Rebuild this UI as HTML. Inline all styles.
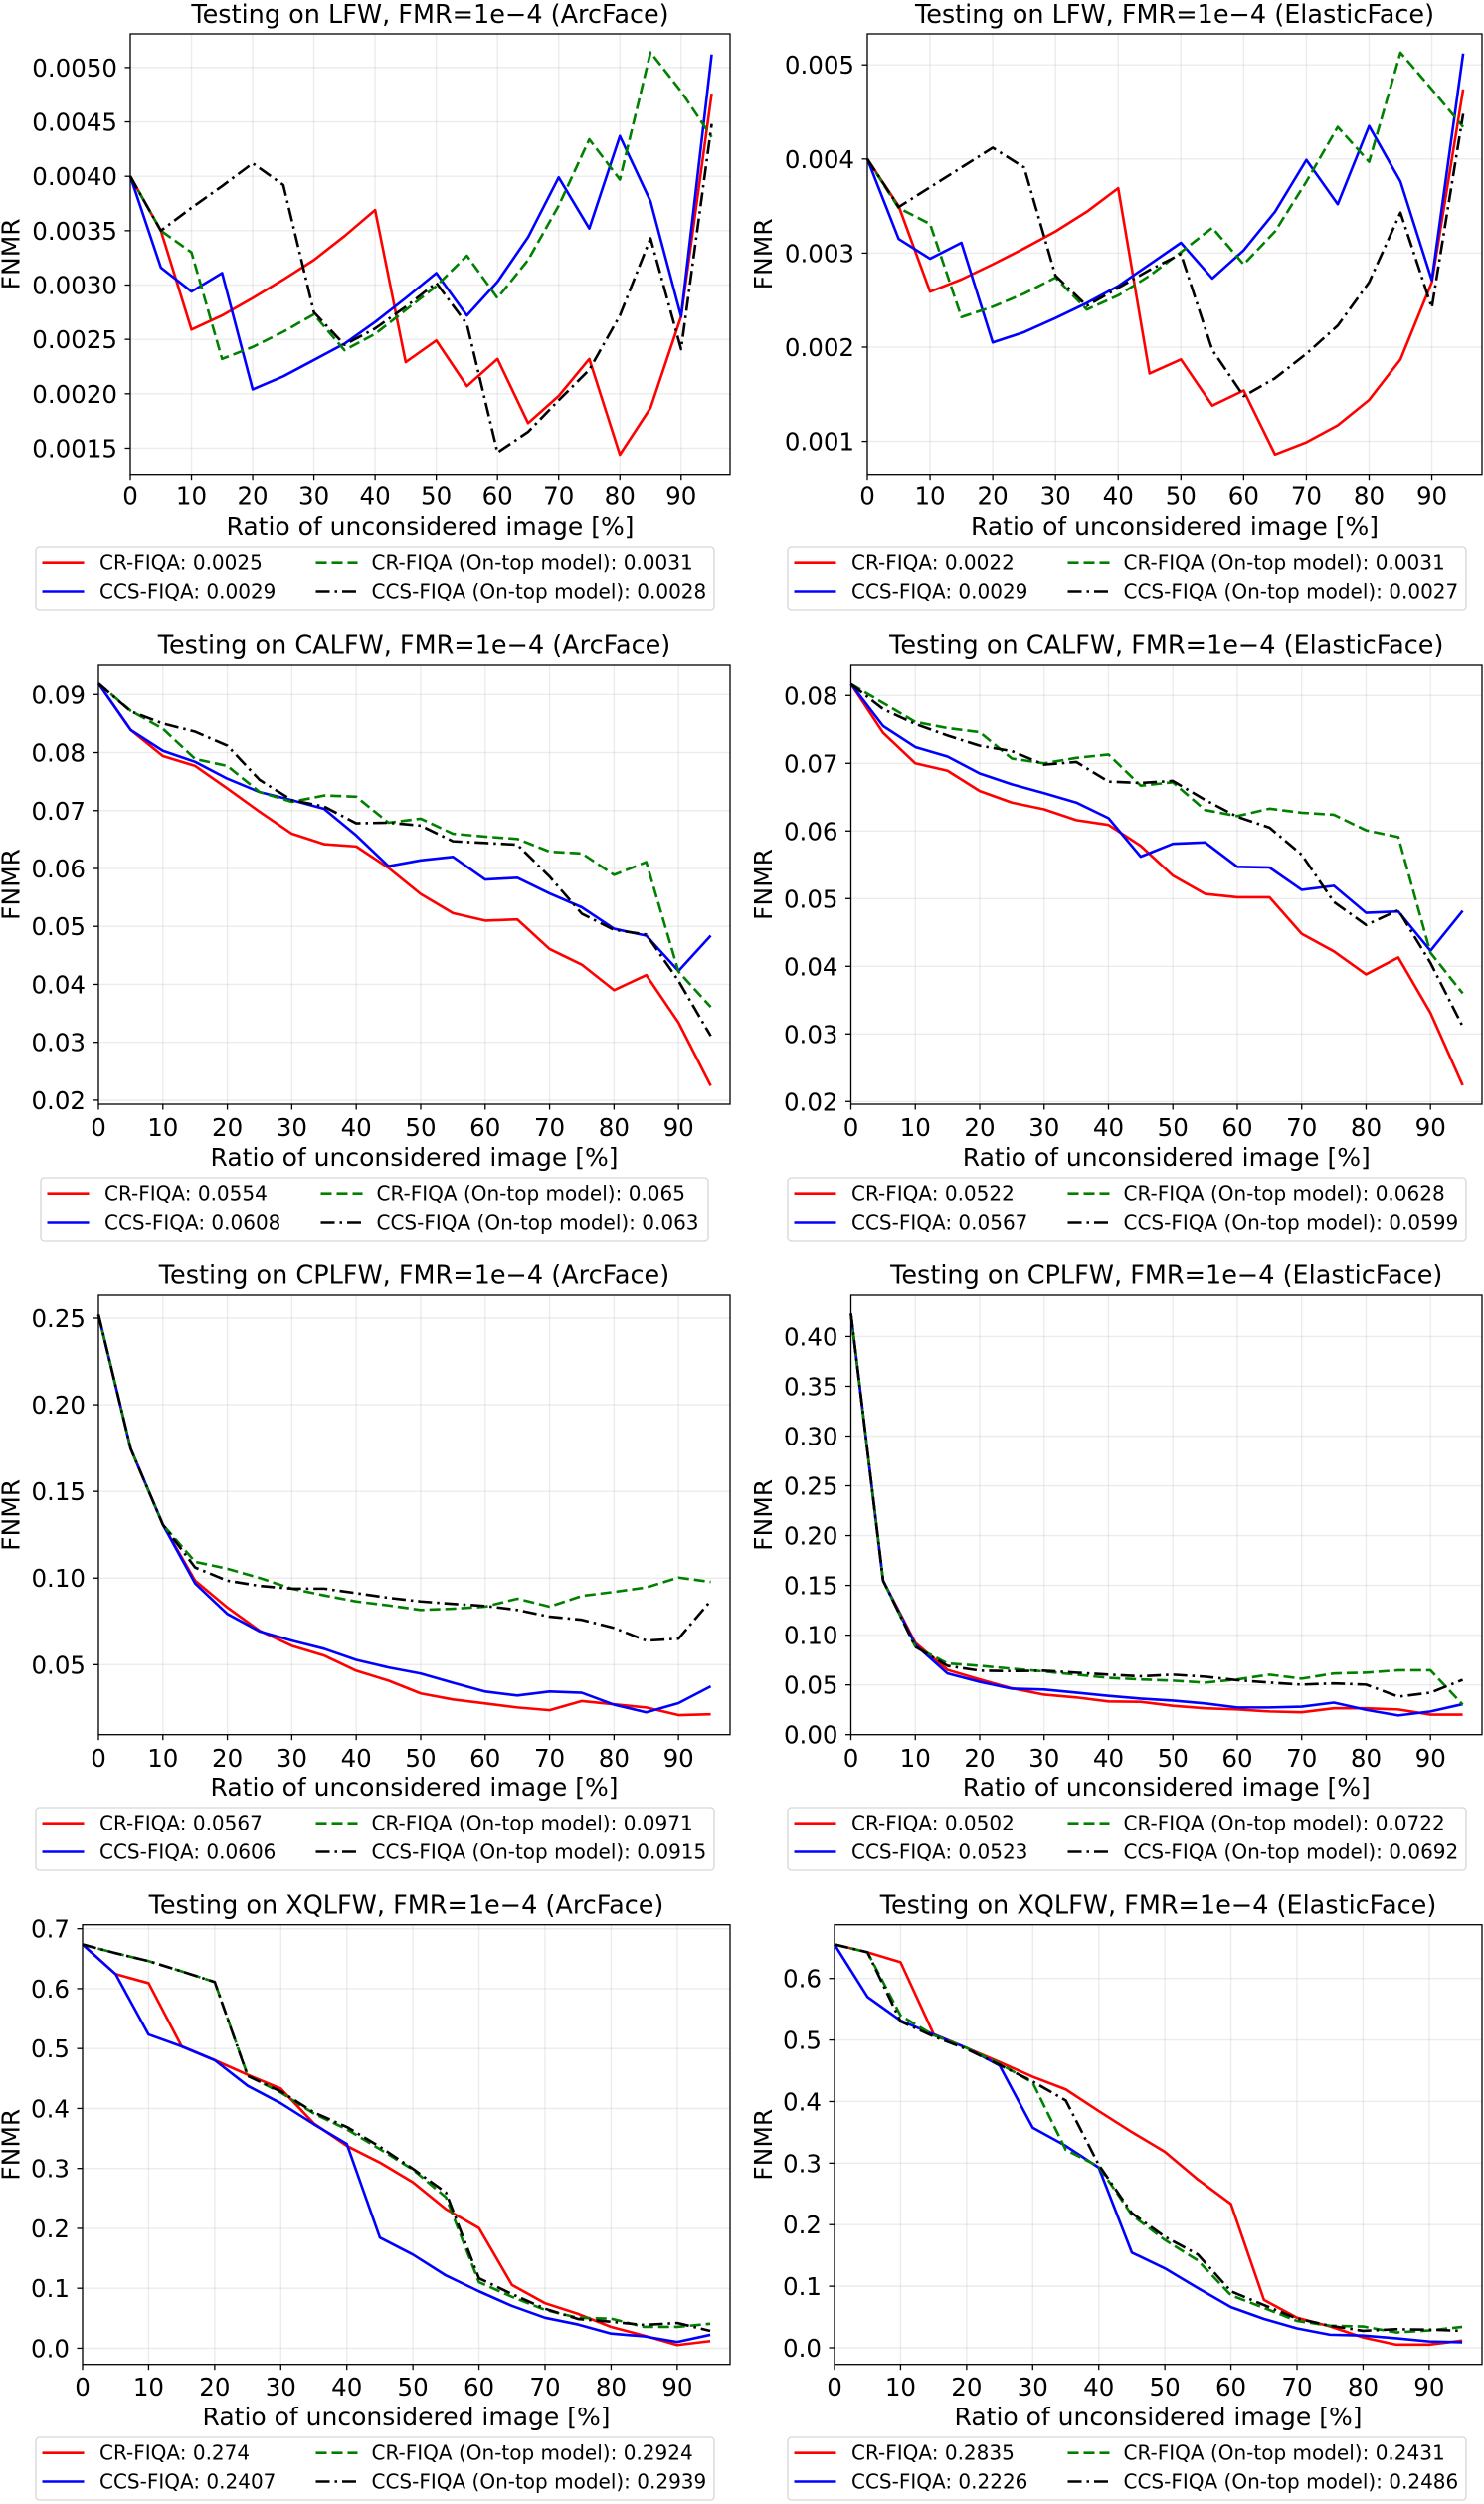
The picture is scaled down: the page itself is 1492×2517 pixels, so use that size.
<!DOCTYPE html>
<html lang="en">
<head>
<meta charset="utf-8">
<title>FNMR vs. ratio of unconsidered images</title>
<style>
html,body{margin:0;padding:0;background:#fff;}
svg{display:block;filter:blur(0.35px);}
text{font-family:"DejaVu Sans","Liberation Sans",sans-serif;fill:#000;}
</style>
</head>
<body>
<svg id="figure" xmlns="http://www.w3.org/2000/svg" width="1492" height="2517" viewBox="0 0 1492 2517"></svg>
<script>
const ratios = [0,5,10,15,20,25,30,35,40,45,50,55,60,65,70,75,80,85,90,95];
const xTickValues = [0,10,20,30,40,50,60,70,80,90];
const xLimit = [0,98];

const lfwArcRed = [.0040,.00350,.00259,.00272,.00288,.00305,.00323,.00345,.00369,.00229,.00249,.00207,.00232,.00173,.00198,.00232,.00144,.00187,.00271,.00476];
const lfwArcBlue = [.0040,.00316,.00294,.00311,.00204,.00216,.00231,.00246,.00266,.00288,.00311,.00272,.00303,.00344,.00399,.00352,.00437,.00377,.00271,.00512];
const lfwArcGreen = [.0040,.0035,.0033,.00232,.00243,.00257,.00273,.0024,.00255,.00277,.00299,.00327,.00288,.00323,.00373,.00434,.00397,.00514,.00478,.00436];
const lfwArcBlack = [.0040,.0035,.00371,.00391,.00412,.00392,.00275,.00245,.0026,.0028,.00302,.00264,.00146,.00165,.00194,.00222,.00272,.00343,.00241,.00448];

const lfwElasticRed = [.0040,.0035,.00259,.00272,.00288,.00305,.00323,.00344,.00369,.00172,.00187,.00138,.00154,.00086,.00099,.00117,.00144,.00187,.00269,.00474];
const lfwElasticBlue = [.0040,.00315,.00294,.00311,.00205,.00216,.00231,.00247,.00265,.00288,.00311,.00273,.00303,.00344,.00399,.00352,.00435,.00376,.00271,.00512];
const lfwElasticGreen = [.0040,.00348,.00331,.00232,.00243,.00257,.00274,.0024,.00255,.00276,.00301,.00327,.00288,.00323,.00376,.00434,.00397,.00513,.00474,.00434];
const lfwElasticBlack = [.0040,.00349,.0037,.00391,.00412,.00391,.00276,.00244,.00263,.00282,.00299,.00197,.00148,.00167,.00193,.00223,.00269,.00343,.00242,.00448];

const calfwArcRed = [.0919,.0839,.0794,.0777,.0738,.0698,.0660,.0642,.0638,.0601,.0556,.0523,.0510,.0512,.0461,.0434,.0390,.0416,.0334,.0225];
const calfwArcBlue = [.0919,.0839,.0803,.0784,.0755,.0732,.0718,.0703,.0657,.0604,.0614,.0620,.0581,.0584,.0557,.0533,.0496,.0484,.0423,.0484];
const calfwArcGreen = [.0919,.0872,.0841,.0789,.0777,.0732,.0715,.0726,.0724,.0679,.0686,.0660,.0655,.0651,.0629,.0626,.0589,.0611,.0422,.0361];
const calfwArcBlack = [.0919,.0871,.0850,.0836,.0812,.0753,.0718,.0707,.0678,.0679,.0674,.0647,.0644,.0641,.0586,.0522,.0494,.0486,.0406,.0311];

const calfwElasticRed = [.0817,.0745,.0700,.0689,.0659,.0642,.0632,.0616,.0609,.0578,.0534,.0507,.0502,.0502,.0448,.0422,.0388,.0413,.0331,.0224];
const calfwElasticBlue = [.0817,.0755,.0724,.0710,.0685,.0669,.0656,.0642,.0619,.0562,.0581,.0583,.0547,.0546,.0513,.0519,.0479,.0481,.0423,.0482];
const calfwElasticGreen = [.0817,.0789,.0761,.0752,.0746,.0707,.0700,.0708,.0713,.0667,.0672,.0631,.0622,.0633,.0627,.0624,.0601,.0591,.0420,.0360];
const calfwElasticBlack = [.0817,.0780,.0758,.0741,.0726,.0718,.0698,.0702,.0673,.0671,.0674,.0646,.0621,.0605,.0565,.0495,.0461,.0483,.0405,.0311];

const cplfwArcRed = [.252,.1747,.1308,.0985,.083,.0696,.0609,.0553,.0465,.0408,.0334,.0299,.0276,.0253,.0237,.029,.0271,.0253,.0209,.0214];
const cplfwArcBlue = [.252,.1747,.1308,.0969,.0793,.0692,.0639,.0592,.0528,.0484,.0449,.0396,.0345,.0322,.0345,.0338,.0269,.0225,.0278,.0375];
const cplfwArcGreen = [.252,.1747,.1308,.1094,.1054,.1001,.0939,.09,.0865,.0842,.0816,.0823,.0835,.0881,.0835,.0897,.092,.0946,.1003,.0978];
const cplfwArcBlack = [.252,.1747,.1308,.1061,.0985,.0955,.0939,.0939,.0913,.0886,.0865,.0851,.0839,.0816,.0777,.0759,.0712,.0639,.065,.0869];

const cplfwElasticRed = [.423,.1548,.0924,.0651,.0555,.0466,.0402,.0374,.0334,.033,.029,.0265,.0253,.0233,.0225,.0265,.0265,.0253,.0201,.0201];
const cplfwElasticBlue = [.423,.1548,.0904,.0615,.0531,.0462,.0454,.0422,.039,.0362,.0342,.0314,.0273,.0273,.0281,.0322,.0249,.0193,.0233,.0306];
const cplfwElasticGreen = [.423,.1548,.0884,.0716,.0692,.0663,.0635,.0603,.0571,.0555,.0543,.0523,.0555,.0603,.0563,.0615,.0623,.0647,.0647,.0302];
const cplfwElasticBlack = [.423,.1548,.0884,.0692,.0643,.0639,.0643,.0623,.0603,.0587,.0603,.0583,.0547,.0523,.0503,.0515,.0503,.0382,.0422,.0551];

const xqlfwArcRed = [.6737,.6243,.6091,.5036,.4806,.4562,.4331,.3751,.3375,.3098,.2769,.232,.2004,.1055,.0751,.0573,.0356,.0211,.0053,.0119];
const xqlfwArcBlue = [.6737,.6243,.5234,.5036,.4806,.4377,.4087,.3738,.3408,.1846,.1562,.1213,.0949,.0705,.0508,.0396,.0244,.0198,.0105,.0224];
const xqlfwArcGreen = [.6737,.6592,.646,.6289,.6111,.4548,.4265,.3916,.3652,.3322,.298,.2518,.1101,.0857,.0639,.0508,.0494,.0356,.0356,.0409];
const xqlfwArcBlack = [.6737,.6592,.646,.6289,.6111,.4542,.4285,.3935,.3691,.3362,.2993,.2597,.1167,.0903,.0659,.0488,.0442,.0389,.0422,.029];

const xqlfwElasticRed = [.6553,.6425,.6264,.5096,.4872,.4641,.4403,.4198,.3845,.3504,.3184,.2734,.2336,.0777,.0488,.0347,.0167,.0051,.0051,.0116];
const xqlfwElasticBlue = [.6553,.57,.5315,.509,.4872,.4583,.3575,.328,.2927,.1547,.129,.0969,.0661,.0469,.0315,.0212,.0199,.0154,.0103,.009];
const xqlfwElasticGreen = [.6553,.6425,.5398,.5077,.4872,.4615,.4307,.3216,.2946,.2157,.1752,.1418,.0854,.0648,.0436,.0359,.0347,.025,.0282,.034];
const xqlfwElasticBlack = [.6553,.6425,.5302,.5058,.4852,.4596,.4326,.4018,.2972,.2189,.1804,.1515,.0918,.0693,.0475,.0359,.0276,.0302,.0295,.0276];

const lfwArcTicks = ["0.0015","0.0020","0.0025","0.0030","0.0035","0.0040","0.0045","0.0050"];
const lfwElasticTicks = ["0.001","0.002","0.003","0.004","0.005"];
const calfwTicks = ["0.02","0.03","0.04","0.05","0.06","0.07","0.08","0.09"];
const calfwElasticTicks = ["0.02","0.03","0.04","0.05","0.06","0.07","0.08"];
const cplfwArcTicks = ["0.05","0.10","0.15","0.20","0.25"];
const cplfwElasticTicks = ["0.00","0.05","0.10","0.15","0.20","0.25","0.30","0.35","0.40"];
const xqlfwArcTicks = ["0.0","0.1","0.2","0.3","0.4","0.5","0.6","0.7"];
const xqlfwElasticTicks = ["0.0","0.1","0.2","0.3","0.4","0.5","0.6"];

const lfwArcScores = ["0.0025","0.0029","0.0031","0.0028"];
const lfwElasticScores = ["0.0022","0.0029","0.0031","0.0027"];
const calfwArcScores = ["0.0554","0.0608","0.065","0.063"];
const calfwElasticScores = ["0.0522","0.0567","0.0628","0.0599"];
const cplfwArcScores = ["0.0567","0.0606","0.0971","0.0915"];
const cplfwElasticScores = ["0.0502","0.0523","0.0722","0.0692"];
const xqlfwArcScores = ["0.274","0.2407","0.2924","0.2939"];
const xqlfwElasticScores = ["0.2835","0.2226","0.2431","0.2486"];

const seriesNames = ["CR-FIQA","CCS-FIQA","CR-FIQA (On-top model)","CCS-FIQA (On-top model)"];
const seriesKeys = ["cr-fiqa","ccs-fiqa","cr-fiqa-on-top","ccs-fiqa-on-top"];

const panels = [
  {set:"LFW",model:"ArcFace",row:0,col:0,yLim:[.00126,.00531],ticks:lfwArcTicks,scores:lfwArcScores,series:[lfwArcRed,lfwArcBlue,lfwArcGreen,lfwArcBlack]},
  {set:"LFW",model:"ElasticFace",row:0,col:1,yLim:[.00065,.00533],ticks:lfwElasticTicks,scores:lfwElasticScores,series:[lfwElasticRed,lfwElasticBlue,lfwElasticGreen,lfwElasticBlack]},
  {set:"CALFW",model:"ArcFace",row:1,col:0,yLim:[.0193,.0952],ticks:calfwTicks,scores:calfwArcScores,series:[calfwArcRed,calfwArcBlue,calfwArcGreen,calfwArcBlack]},
  {set:"CALFW",model:"ElasticFace",row:1,col:1,yLim:[.0196,.0846],ticks:calfwElasticTicks,scores:calfwElasticScores,series:[calfwElasticRed,calfwElasticBlue,calfwElasticGreen,calfwElasticBlack]},
  {set:"CPLFW",model:"ArcFace",row:2,col:0,yLim:[.0096,.2632],ticks:cplfwArcTicks,scores:cplfwArcScores,series:[cplfwArcRed,cplfwArcBlue,cplfwArcGreen,cplfwArcBlack]},
  {set:"CPLFW",model:"ElasticFace",row:2,col:1,yLim:[0,.4414],ticks:cplfwElasticTicks,scores:cplfwElasticScores,series:[cplfwElasticRed,cplfwElasticBlue,cplfwElasticGreen,cplfwElasticBlack]},
  {set:"XQLFW",model:"ArcFace",row:3,col:0,yLim:[-.027,.7066],ticks:xqlfwArcTicks,scores:xqlfwArcScores,series:[xqlfwArcRed,xqlfwArcBlue,xqlfwArcGreen,xqlfwArcBlack]},
  {set:"XQLFW",model:"ElasticFace",row:3,col:1,yLim:[-.027,.6873],ticks:xqlfwElasticTicks,scores:xqlfwElasticScores,series:[xqlfwElasticRed,xqlfwElasticBlue,xqlfwElasticGreen,xqlfwElasticBlack]}
];

/* layout only */
const rowLayout = [
  {top:34,bottom:476.7,title:14.5,tick:498.5,xlabel:529,legend:550},
  {top:668,bottom:1110,title:648,tick:1133,xlabel:1163,legend:1184},
  {top:1302,bottom:1743.7,title:1282,tick:1767,xlabel:1796,legend:1817},
  {top:1934.7,bottom:2376.7,title:1915,tick:2399,xlabel:2429,legend:2450}
];
const colLayout = [
  {left:[131,99,99,83],right:734,ylabel:10.5,legend:[36,41,36,36],legendW:[682,671,682,682]},
  {left:[872,855.5,855.5,839],right:1490,ylabel:767,legend:[792,792,792,792],legendW:[682,682,682,682]}
];
const lineStyles = [
  {color:"#ff0000",dash:""},
  {color:"#0000ff",dash:""},
  {color:"#008000",dash:"11 5"},
  {color:"#000000",dash:"14 5 2.5 5"}
];

const NS = "http://www.w3.org/2000/svg";
const root = document.getElementById("figure");
function make(tag, parent, attrs){
  const el = document.createElementNS(NS, tag);
  for (const k in attrs) el.setAttribute(k, attrs[k]);
  parent.appendChild(el);
  return el;
}
function slug(p){ return (p.set + "-" + p.model).toLowerCase(); }

panels.forEach(function(p){
  const R = rowLayout[p.row], C = colLayout[p.col];
  const L = C.left[p.row], W = C.right - L, T = R.top, H = R.bottom - R.top;
  const sx = function(v){ return L + (v - xLimit[0]) / (xLimit[1] - xLimit[0]) * W; };
  const sy = function(v){ return R.bottom - (v - p.yLim[0]) / (p.yLim[1] - p.yLim[0]) * H; };

  const g = make("g", root, {});
  
  

  const title = make("text", g, {x:(L + C.right)/2, y:R.title + 8.5, "text-anchor":"middle", "font-size":"25.5"});
  title.textContent = "Testing on " + p.set + ", FMR=1e\u22124 (" + p.model + ")";
  
  

  /* grid + ticks */
  xTickValues.forEach(function(v){
    const x = sx(v);
    const grid = make("line", g, {x1:x, x2:x, y1:T, y2:R.bottom, stroke:"#b0b0b0", "stroke-opacity":"0.24", "stroke-width":"1.4"});
    
    
    const tick = make("line", g, {x1:x, x2:x, y1:R.bottom, y2:R.bottom + 5.5, stroke:"#000", "stroke-width":"1.3"});
    
    
    const lab = make("text", g, {x:x, y:R.tick + 9, "text-anchor":"middle", "font-size":"24.5"});
    lab.textContent = String(v);
    
    
  });
  p.ticks.forEach(function(t){
    const y = sy(Number(t));
    const grid = make("line", g, {x1:L, x2:C.right, y1:y, y2:y, stroke:"#b0b0b0", "stroke-opacity":"0.24", "stroke-width":"1.4"});
    
    
    const tick = make("line", g, {x1:L - 5.5, x2:L, y1:y, y2:y, stroke:"#000", "stroke-width":"1.3"});
    
    
    const lab = make("text", g, {x:L - 13, y:y + 9, "text-anchor":"end", "font-size":"24.5"});
    lab.textContent = t;
    
    
  });

  /* series */
  p.series.forEach(function(vals, i){
    const pts = vals.map(function(v, j){ return sx(ratios[j]).toFixed(2) + "," + sy(v).toFixed(2); }).join(" ");
    const line = make("polyline", g, {points:pts, fill:"none", stroke:lineStyles[i].color, "stroke-width":"2.6", "stroke-linejoin":"round"});
    if (lineStyles[i].dash) line.setAttribute("stroke-dasharray", lineStyles[i].dash);
    
    
  });

  /* frame */
  const frame = make("rect", g, {x:L, y:T, width:W, height:H, fill:"none", stroke:"#000", "stroke-width":"1.3"});
  
  

  /* axis titles */
  const xt = make("text", g, {x:(L + C.right)/2, y:R.xlabel + 9, "text-anchor":"middle", "font-size":"25"});
  xt.textContent = "Ratio of unconsidered image [%]";
  
  
  const cy = (T + R.bottom) / 2;
  const yt = make("text", g, {x:C.ylabel + 9, y:cy, "text-anchor":"middle", "font-size":"25", transform:"rotate(-90 " + (C.ylabel + 9) + " " + cy + ")"});
  yt.textContent = "FNMR";
  
  

  /* legend */
  const lx = C.legend[p.row], ly = R.legend;
  const lg = make("g", g, {});
  
  
  const box = make("rect", lg, {x:lx, y:ly, width:C.legendW[p.row], height:63, rx:3.5, fill:"#fff", stroke:"#d6d6d6", "stroke-width":"1.3"});
  
  
  seriesNames.forEach(function(name, i){
    const column = i < 2 ? 0 : 1;
    const ry = ly + ((i % 2) === 0 ? 15.7 : 44.5);
    const hx = lx + (column === 0 ? 6.5 : 281.5);
    const h = make("line", lg, {x1:hx, x2:hx + 42, y1:ry, y2:ry, stroke:lineStyles[i].color, "stroke-width":"2.6"});
    if (lineStyles[i].dash) h.setAttribute("stroke-dasharray", lineStyles[i].dash);
    
    
    const txt = make("text", lg, {x:lx + (column === 0 ? 64 : 337.5), y:ry + 7, "font-size":"20"});
    txt.textContent = name + ": " + p.scores[i];
    
    
  });
});
</script>
</body>
</html>
